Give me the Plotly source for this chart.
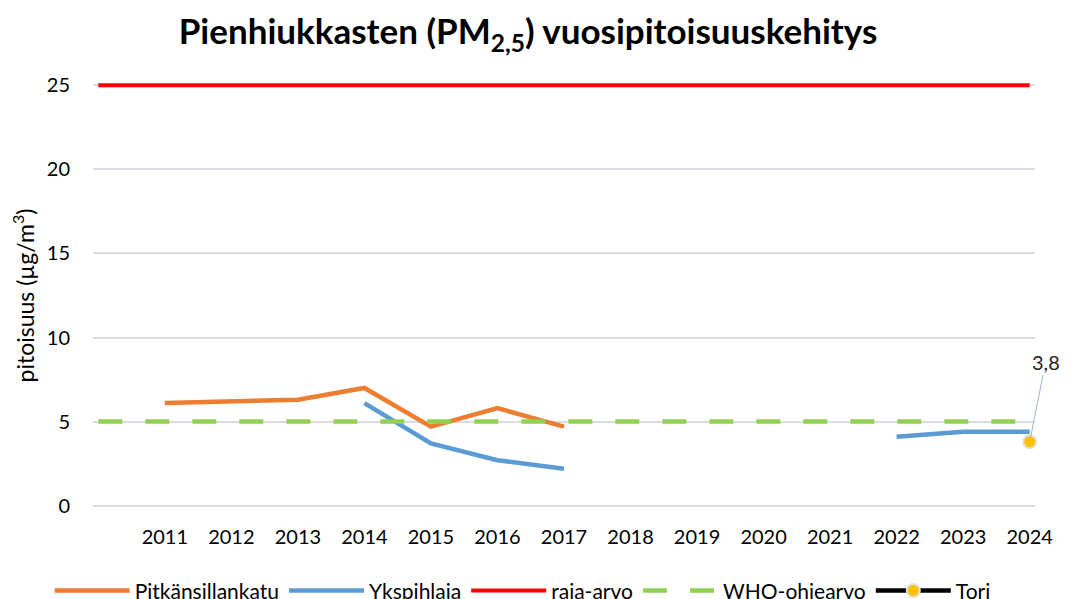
import plotly.graph_objects as go

years = [2010, 2011, 2012, 2013, 2014, 2015, 2016, 2017, 2018, 2019, 2020, 2021, 2022, 2023, 2024]
tick_years = years[1:]

pitkansillankatu = [None, 6.1, 6.2, 6.3, 7.0, 4.7, 5.8, 4.7, None, None, None, None, None, None, None]
ykspihlaja = [None, None, None, None, 6.1, 3.7, 2.7, 2.2, None, None, None, None, 4.1, 4.4, 4.4]
raja_arvo = [25] * len(years)
who_ohjearvo = [5] * len(years)
tori_years = [2024]
tori = [3.8]
tori_labels = ["3,8"]

FONT = "Lato, 'Open Sans', sans-serif"

fig = go.Figure()

fig.add_trace(go.Scatter(x=years, y=pitkansillankatu, mode='lines', name='Pitkänsillankatu',
                         line=dict(color='#ED7D31', width=4.5)))
fig.add_trace(go.Scatter(x=years, y=ykspihlaja, mode='lines', name='Ykspihlaja',
                         line=dict(color='#5B9BD5', width=4.5)))
fig.add_trace(go.Scatter(x=years, y=raja_arvo, mode='lines', name='raja-arvo',
                         line=dict(color='#FF0000', width=4)))
fig.add_trace(go.Scatter(x=years, y=who_ohjearvo, mode='lines', name='WHO-ohjearvo',
                         line=dict(color='#92D050', width=4.5, dash='24px,23px')))
fig.add_trace(go.Scatter(x=tori_years, y=tori, mode='lines+markers', name='Tori',
                         line=dict(color='black', width=4.5),
                         marker=dict(color='#FFC000', size=13, line=dict(color='#E0E0E0', width=2)),
                         cliponaxis=False))

# data label with leader line
fig.add_annotation(x=tori_years[0], y=tori[0], text=tori_labels[0], showarrow=True,
                   arrowhead=0, arrowwidth=1, arrowcolor='#A6B4C8', ax=16, ay=-80,
                   standoff=5, font=dict(size=20, color='#222'))

# the page body adds an 8px offset, margins compensate for it
fig.update_layout(
    width=1070, height=599,
    paper_bgcolor='white', plot_bgcolor='white',
    font=dict(family=FONT, size=20, color='black'),
    title=dict(text='<b>Pienhiukkasten (PM<sub>2,5</sub>) vuosipitoisuuskehitys</b>',
               x=0.486, xanchor='center', y=0.96, yanchor='middle',
               font=dict(size=35, family=FONT)),
    margin=dict(l=85, r=43, t=74, b=98),
    showlegend=True,
    legend=dict(orientation='h', x=0.481, xanchor='center', xref='container',
                y=0.061, yanchor='top', yref='container',
                itemwidth=75, font=dict(size=21), tracegroupgap=0),
    xaxis=dict(range=[2009.92, 2024.08], tickvals=tick_years, ticktext=[str(y) for y in tick_years],
               showgrid=False, zeroline=False, showline=False, ticklabelstandoff=14,
               tickfont=dict(size=20), automargin=False),
    yaxis=dict(range=[-0.2, 25.2], tickvals=[0, 5, 10, 15, 20, 25], showgrid=True,
               gridcolor='#D9DDE3', gridwidth=1.5, zeroline=False, showline=False,
               ticklabelstandoff=22, tickfont=dict(size=20), automargin=False,
               title=dict(text='pitoisuus (µg/m<sup>3</sup>)', font=dict(size=23), standoff=14)),
)

fig.write_html("out.html")
